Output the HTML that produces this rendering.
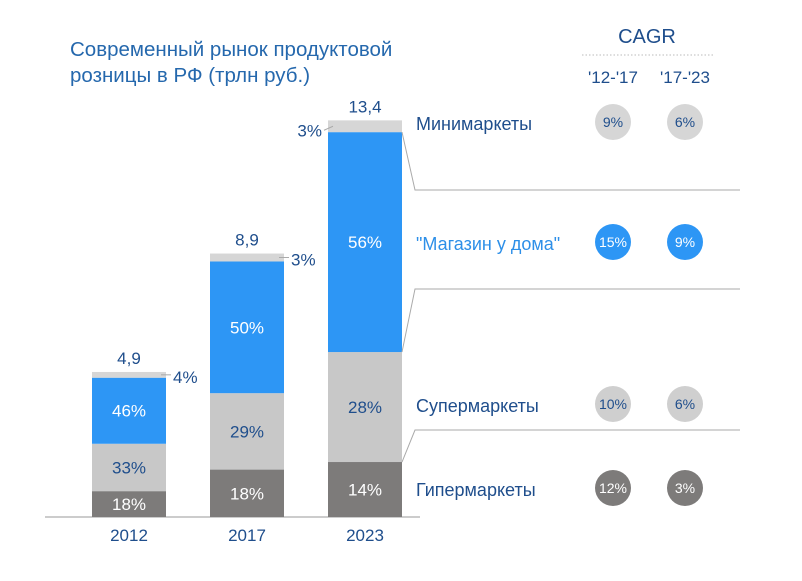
<!DOCTYPE html>
<html><head><meta charset="utf-8"><style>
body{margin:0;background:#fff;}
svg{display:block;font-family:"Liberation Sans",Arial,sans-serif;}
</style></head><body>
<svg id="c" width="802" height="581" viewBox="0 0 802 581">
<text x="70" y="56" font-size="20.5" fill="#2568ad">Современный рынок продуктовой</text>
<text x="70" y="82" font-size="20.5" fill="#2568ad">розницы в РФ (трлн руб.)</text>
<text x="647" y="43" font-size="20" fill="#1f4e8c" text-anchor="middle">CAGR</text>
<line x1="582" y1="55" x2="713" y2="55" stroke="#bbb" stroke-dasharray="1.5,2"/>
<text x="613" y="83" font-size="17" fill="#1f4e8c" text-anchor="middle">'12-'17</text>
<text x="685" y="83" font-size="17" fill="#1f4e8c" text-anchor="middle">'17-'23</text>
<line x1="45" y1="517" x2="420" y2="517" stroke="#bbb" stroke-width="1.5"/>
<g id="bars"></g>
</svg>
<script>
const years=["2012","2017","2023"];
const totals=[4.9,8.9,13.4];
const hyper=[18,18,14];
const super_=[33,29,28];
const magazin=[46,50,56];
const mini=[4,3,3];
const segNames=["Гипермаркеты","Супермаркеты","\"Магазин у дома\"","Минимаркеты"];
const cagr1=["12%","10%","15%","9%"];
const cagr2=["3%","6%","9%","6%"];

const svg=document.getElementById('bars');
const NS="http://www.w3.org/2000/svg";
const base=517, scale=29.6, barW=74;
const xOf=i=>92+i*118;
const yOf=v=>base-v*scale;
const colors=["#7d7b7a","#c8c8c8","#2d96f5","#d6d6d6"];
const txtCol=["#fff","#1f4e8c","#fff","#1f4e8c"];
function mk(tag,attrs,parent){const e=document.createElementNS(NS,tag);for(const k in attrs)e.setAttribute(k,attrs[k]);(parent||svg).appendChild(e);return e;}
const bounds=[];
years.forEach((y,i)=>{
  const shares=[hyper[i],super_[i],magazin[i],mini[i]];
  const sum=shares.reduce((a,b)=>a+b,0);
  let cum=0;const bb=[];
  shares.forEach((s,j)=>{
    const v0=totals[i]*cum/sum; cum+=s; const v1=totals[i]*cum/sum;
    const r=mk('rect',{x:xOf(i),y:yOf(v1),width:barW,height:yOf(v0)-yOf(v1),fill:colors[j]});
    
    
    bb.push(yOf(v1));
    if(j<3){
      const t=mk('text',{x:xOf(i)+barW/2,y:(yOf(v0)+yOf(v1))/2+6,'font-size':17,fill:txtCol[j],'text-anchor':'middle'});
      t.textContent=s+'%';
      
      
    }else{
      const ym=(yOf(v0)+yOf(v1))/2;
      if(i<2){
        mk('line',{x1:xOf(i)+barW-5,y1:ym,x2:xOf(i)+barW+5,y2:ym,stroke:'#aaa'});
        const t=mk('text',{x:xOf(i)+barW+7,y:ym+8,'font-size':17,fill:'#1f4e8c'});
        t.textContent=s+'%';
        
        
      }else{
        mk('line',{x1:xOf(i)+5,y1:ym,x2:xOf(i)-4,y2:ym+4,stroke:'#aaa'});
        const t=mk('text',{x:xOf(i)-6,y:ym+10,'font-size':17,fill:'#1f4e8c','text-anchor':'end'});
        t.textContent=s+'%';
        
        
      }
    }
  });
  bounds.push(bb);
  const tt=mk('text',{x:xOf(i)+barW/2,y:yOf(totals[i])-8,'font-size':17,fill:'#1f4e8c','text-anchor':'middle'});
  tt.textContent=String(totals[i]).replace('.',',');
  
  
  const yl=mk('text',{x:xOf(i)+barW/2,y:541,'font-size':17,fill:'#1f4e8c','text-anchor':'middle'});
  yl.textContent=y;
  
  
});
const last=bounds[2], rx=xOf(2)+barW;
[[last[0],430],[last[1],289],[last[2],190]].forEach((p,k)=>{
  const l=mk('polyline',{points:`${rx},${p[0]} 415,${p[1]} 740,${p[1]}`,fill:'none',stroke:'#aaa','stroke-width':1});
  
  
});
const rowY=[490,406,244,124];
const circCol=["#7d7b7a","#cfcfcf","#2d96f5","#d6d6d6"];
const circTxt=["#fff","#1f4e8c","#fff","#1f4e8c"];
segNames.forEach((n,j)=>{
  const t=mk('text',{x:416,y:rowY[j]+6,'font-size':18,fill:j==2?'#2d8fe8':'#1f4e8c'});
  t.textContent=n;
  
  
  [[613,cagr1],[685,cagr2]].forEach((c,k)=>{
    const ci=mk('circle',{cx:c[0],cy:rowY[j]-2,r:18,fill:circCol[j]});
    
    
    const ct=mk('text',{x:c[0],y:rowY[j]+3,'font-size':14,fill:circTxt[j],'text-anchor':'middle'});
    ct.textContent=c[1][j];
    
    
  });
});
</script>
</body></html>
